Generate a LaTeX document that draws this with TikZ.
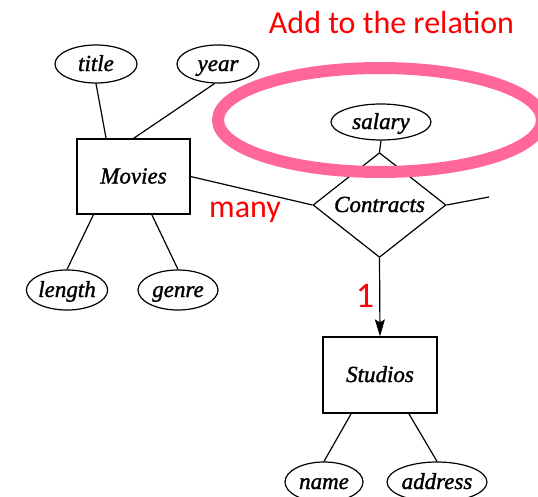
\documentclass[tikz,border=0pt]{standalone}
\usepackage{fontspec}
\setmainfont{Liberation Serif}
\newfontfamily\erfont[ItalicFeatures={FakeBold=1.4}]{Liberation Serif}
\newfontfamily\notefont{Carlito}
\usetikzlibrary{shapes.geometric,arrows.meta,calc}
\definecolor{ringpink}{RGB}{255,102,153}
\definecolor{notered}{RGB}{255,0,0}
\tikzset{
  ertext/.style={font=\erfont\fontsize{23}{26}\selectfont\itshape, text height=14pt, text depth=0pt},
  attr/.style={ellipse, draw, line width=1.2pt, inner sep=0pt, ertext},
  entity/.style={rectangle, draw, line width=1.2pt, inner sep=0pt, ertext},
  relship/.style={diamond, draw, line width=1.2pt, inner sep=0pt, ertext},
  link/.style={line width=1.2pt},
  note/.style={text=notered, inner sep=0pt, font=\notefont\fontsize{32}{38}\selectfont},
  ring/.style={draw=ringpink, line width=12pt}
}
\begin{document}
\begin{tikzpicture}[x=1pt, y=-1pt]
\useasboundingbox (0,0) rectangle (538,496);

% entities
\node[entity, minimum width=113pt, minimum height=75pt] (movies) at (133.5,176.5) {Movies};
\node[entity, minimum width=114pt, minimum height=76pt] (studios) at (380,375) {Studios};

% relationship
\node[relship, minimum width=133pt, minimum height=94pt] (contracts) at (379.5,205) {Contracts};

% attributes
\node[attr, minimum width=82pt, minimum height=38pt] (title) at (96,64) {title};
\node[attr, minimum width=82pt, minimum height=38pt] (year) at (218,64) {year};
\node[attr, minimum width=100pt, minimum height=36pt] (salary) at (381,122) {salary};
\node[attr, minimum width=80pt, minimum height=40pt] (length) at (67,290) {length};
\node[attr, minimum width=80pt, minimum height=40pt] (genre) at (178,290) {genre};
\node[attr, minimum width=78pt, minimum height=40pt] (name) at (324,482) {name};
\node[attr, minimum width=98pt, minimum height=40pt] (address) at (437,482) {address};

\coordinate (third) at (489,197);

% connectors
\draw[link] (title.south) -- ($(movies.north west)!0.26!(movies.north east)$);
\draw[link] (year.260) -- (movies.north);
\draw[link] ($(movies.south west)!0.15!(movies.south east)$) -- (length.north);
\draw[link] ($(movies.south west)!0.66!(movies.south east)$) -- (genre.north);
\draw[link] (movies.east) -- (contracts.west);
\draw[link] (contracts.east) -- (third);
\draw[link] (salary.south) -- (contracts.north);
\draw[link, -{Stealth[length=17pt, width=10pt, inset=3pt]}] (contracts.south) -- (studios.north);
\draw[link] ($(studios.south west)!0.25!(studios.south east)$) -- (name.north);
\draw[link] ($(studios.south west)!0.75!(studios.south east)$) -- (address.north);

% annotations
\draw[ring] (380,120) ellipse [x radius=162, y radius=52];
\node[note, anchor=base] (addnote) at (391.5,33) {Add to the relation};
\node[note, anchor=base] (many) at (245,217) {many};
\node[note, anchor=base, font=\notefont\fontsize{36}{40}\selectfont] (one) at (365,307) {1};
\end{tikzpicture}
\end{document}
